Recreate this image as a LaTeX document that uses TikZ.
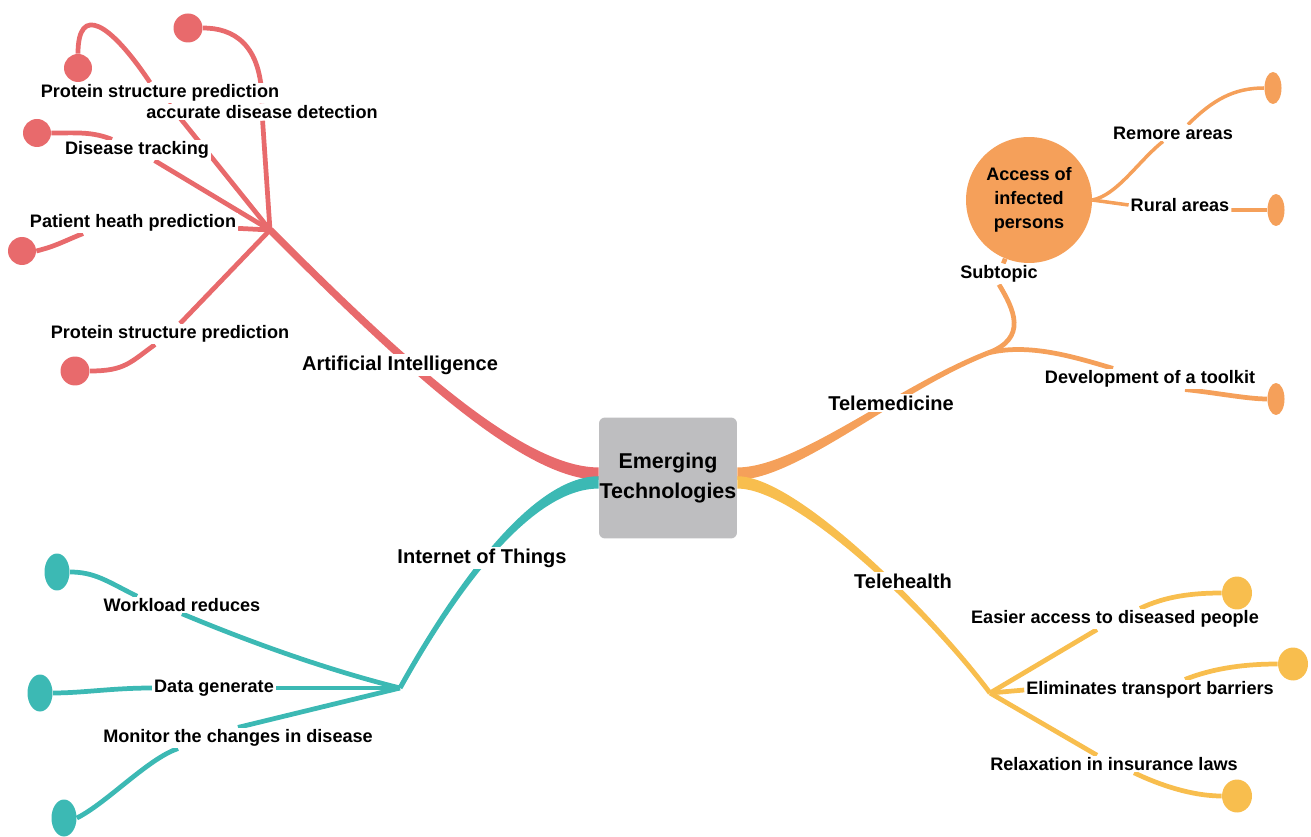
\documentclass[tikz,border=0pt]{standalone}
\usepackage{fontspec}
\setmainfont{Liberation Sans}
\usetikzlibrary{shapes.geometric,backgrounds,calc}
\definecolor{aired}{RGB}{232,106,108}
\definecolor{tmorange}{RGB}{245,160,90}
\definecolor{thyellow}{RGB}{248,190,78}
\definecolor{iotteal}{RGB}{60,185,180}
\definecolor{boxgray}{RGB}{190,190,192}
\begin{document}
\begin{tikzpicture}[x=0.02cm, y=-0.02cm,
  topic/.style={fill=white, inner sep=1pt, font=\bfseries\fontsize{11.4}{13}\selectfont},
  leaflbl/.style={fill=white, inner sep=1pt, font=\bfseries\fontsize{10.3}{12}\selectfont},
  leafdot/.style={ellipse, inner sep=0pt, fill},
  twig/.style={line width=2.7pt},
  thintwig/.style={line width=2pt}]
\useasboundingbox (0,0) rectangle (1311,837);
\node[fill=boxgray, rounded corners=0.12cm, minimum width=2.76cm, minimum height=2.42cm, inner sep=0pt, align=center, font=\bfseries\fontsize{12.2}{17}\selectfont] (ctr) at (668,478) {Emerging\\Technologies};
\coordinate (aih) at (270,230);
\coordinate (ioth) at (400,688);
\coordinate (tmh) at (988,353);
\coordinate (thh) at (990,693);
\node[topic] (ai) at (400,365) {Artificial Intelligence};
\node[topic] (iot) at (482,558) {Internet of Things};
\node[topic] (tm) at (891,403) {Telemedicine};
\node[topic] (th) at (903,581) {Telehealth};
\node[leaflbl] (ai2) at (262,112) {accurate disease detection};
\node[leaflbl] (ai1) at (160,93) {Protein structure prediction};
\node[leaflbl] (ai3) at (137,150) {Disease tracking};
\node[leaflbl] (ai4) at (133,223) {Patient heath prediction};
\node[leaflbl] (ai5) at (170,334) {Protein structure prediction};
\node[leaflbl] (tm1) at (999,274) {Subtopic};
\node[circle, fill=tmorange, minimum size=2.52cm, inner sep=0pt, align=center, font=\bfseries\fontsize{10.3}{13.6}\selectfont] (acc) at (1029,200) {Access of\\infected\\persons};
\node[leaflbl] (tm2) at (1173,133) {Remore areas};
\node[leaflbl] (tm3) at (1180,205) {Rural areas};
\node[leaflbl] (tm4) at (1150,379) {Development of a toolkit};
\node[leaflbl] (th1) at (1115,619) {Easier access to diseased people};
\node[leaflbl] (th2) at (1150,690) {Eliminates transport barriers};
\node[leaflbl] (th3) at (1114,764) {Relaxation in insurance laws};
\node[leaflbl] (iot1) at (182,605) {Workload reduces};
\node[leaflbl] (iot2) at (214,688) {Data generate};
\node[leaflbl] (iot3) at (238,738) {Monitor the changes in disease};
\node[leafdot, aired, minimum size=0.56cm] (aid1) at (78,68) {};
\node[leafdot, aired, minimum size=0.58cm] (aid2) at (188,28) {};
\node[leafdot, aired, minimum size=0.56cm] (aid3) at (37,133) {};
\node[leafdot, aired, minimum size=0.56cm] (aid4) at (22,251) {};
\node[leafdot, aired, minimum size=0.58cm] (aid5) at (75,371) {};
\node[leafdot, tmorange, minimum width=0.34cm, minimum height=0.64cm] (tmd1) at (1273,88) {};
\node[leafdot, tmorange, minimum width=0.34cm, minimum height=0.64cm] (tmd2) at (1276,210) {};
\node[leafdot, tmorange, minimum width=0.34cm, minimum height=0.64cm] (tmd3) at (1276,399) {};
\node[leafdot, thyellow, minimum width=0.6cm, minimum height=0.66cm] (thd1) at (1237,593) {};
\node[leafdot, thyellow, minimum width=0.6cm, minimum height=0.66cm] (thd2) at (1293,664) {};
\node[leafdot, thyellow, minimum width=0.6cm, minimum height=0.66cm] (thd3) at (1237,796) {};
\node[leafdot, iotteal, minimum width=0.5cm, minimum height=0.74cm] (iotd1) at (57,572) {};
\node[leafdot, iotteal, minimum width=0.5cm, minimum height=0.74cm] (iotd2) at (40,693) {};
\node[leafdot, iotteal, minimum width=0.5cm, minimum height=0.74cm] (iotd3) at (64,818) {};
\begin{scope}[on background layer]
\fill[aired] ([yshift=6pt]ctr.west) .. controls +(-80,0) and +(120,120) .. ([shift={(2.5,-2.5)}]aih) -- ([shift={(-2.5,2.5)}]aih) .. controls +(120,120) and +(-80,0) .. ([yshift=-1pt]ctr.west) -- cycle;
\fill[iotteal] ([yshift=1pt]ctr.west) .. controls +(-70,0) and +(50,-90) .. ([shift={(-2.2,-1.2)}]ioth) -- ([shift={(2.2,1.2)}]ioth) .. controls +(50,-90) and +(-70,0) .. ([yshift=-6pt]ctr.west) -- cycle;
\fill[tmorange] ([yshift=6pt]ctr.east) .. controls +(60,0) and +(-90,35) .. ([shift={(-0.9,-2.3)}]tmh) -- ([shift={(0.9,2.3)}]tmh) .. controls +(-90,35) and +(60,0) .. ([yshift=-1pt]ctr.east) -- cycle;
\fill[thyellow] ([yshift=1pt]ctr.east) .. controls +(60,0) and +(-60,-80) .. ([shift={(1.9,-1.5)}]thh) -- ([shift={(-1.9,1.5)}]thh) .. controls +(-60,-80) and +(60,0) .. ([yshift=-6pt]ctr.east) -- cycle;
\draw[twig, aired] (aih) -- (ai1);
\draw[twig, aired] ([xshift=-0.2cm]ai1.north) .. controls +(-40,-60) and +(0,-50) .. (aid1.north);
\draw[twig, aired] (aih) -- (ai2);
\draw[twig, aired] (ai2.north) .. controls +(0,-60) and +(30,0) .. (aid2.east);
\draw[twig, aired] (aih) -- (ai3);
\draw[twig, aired] ([xshift=-0.5cm]ai3.north) .. controls +(-20,-8) and +(25,0) .. (aid3.east);
\draw[twig, aired] (aih) -- (ai4);
\draw[twig, aired] ([xshift=-1cm]ai4.south) .. controls +(-20,8) and +(20,-5) .. (aid4.east);
\draw[twig, aired] (aih) -- (ai5);
\draw[twig, aired] ([xshift=-0.3cm]ai5.south) .. controls +(-25,18) and +(35,0) .. (aid5.east);
\draw[twig, tmorange] (tmh) .. controls +(40,-15) and +(15,25) .. (tm1.south);
\draw[twig, tmorange] (tm1) -- (acc);
\draw[thintwig, tmorange] (acc.east) .. controls +(25,-5) and +(-25,20) .. ([xshift=-0.2cm]tm2.south);
\draw[thintwig, tmorange] ([xshift=0.3cm]tm2.north) .. controls +(25,-25) and +(-30,0) .. (tmd1.west);
\draw[thintwig, tmorange] (acc.east) -- (tm3.west);
\draw[thintwig, tmorange] ([yshift=-0.1cm]tm3.east) .. controls +(15,0) and +(-15,0) .. (tmd2.west);
\draw[twig, tmorange] (tmh) .. controls +(40,-10) and +(-40,-12) .. ([xshift=-0.74cm]tm4.north);
\draw[twig, tmorange] ([xshift=0.7cm]tm4.south) .. controls +(30,3) and +(-20,0) .. (tmd3.west);
\draw[twig, thyellow] (thh) -- ([xshift=-0.36cm]th1.south);
\draw[twig, thyellow] ([xshift=0.5cm]th1.north) .. controls +(25,-12) and +(-30,0) .. (thd1.west);
\draw[twig, thyellow] (thh) -- (th2.west);
\draw[twig, thyellow] ([xshift=0.7cm]th2.north) .. controls +(30,-12) and +(-30,0) .. (thd2.west);
\draw[twig, thyellow] (thh) -- ([xshift=-0.34cm]th3.north);
\draw[twig, thyellow] ([xshift=0.4cm]th3.south) .. controls +(25,12) and +(-30,0) .. (thd3.west);
\draw[twig, iotteal] (ioth) .. controls +(-80,-20) and +(60,25) .. (iot1.south);
\draw[twig, iotteal] ([xshift=-0.9cm]iot1.north) .. controls +(-30,-15) and +(25,0) .. (iotd1.east);
\draw[twig, iotteal] (ioth) -- (iot2.east);
\draw[twig, iotteal] (iot2.west) .. controls +(-40,0) and +(30,0) .. (iotd2.east);
\draw[twig, iotteal] (ioth) -- (iot3.north);
\draw[twig, iotteal] ([xshift=-1.2cm]iot3.south) .. controls +(-30,10) and +(30,-15) .. (iotd3.east);
\end{scope}
\end{tikzpicture}
\end{document}
